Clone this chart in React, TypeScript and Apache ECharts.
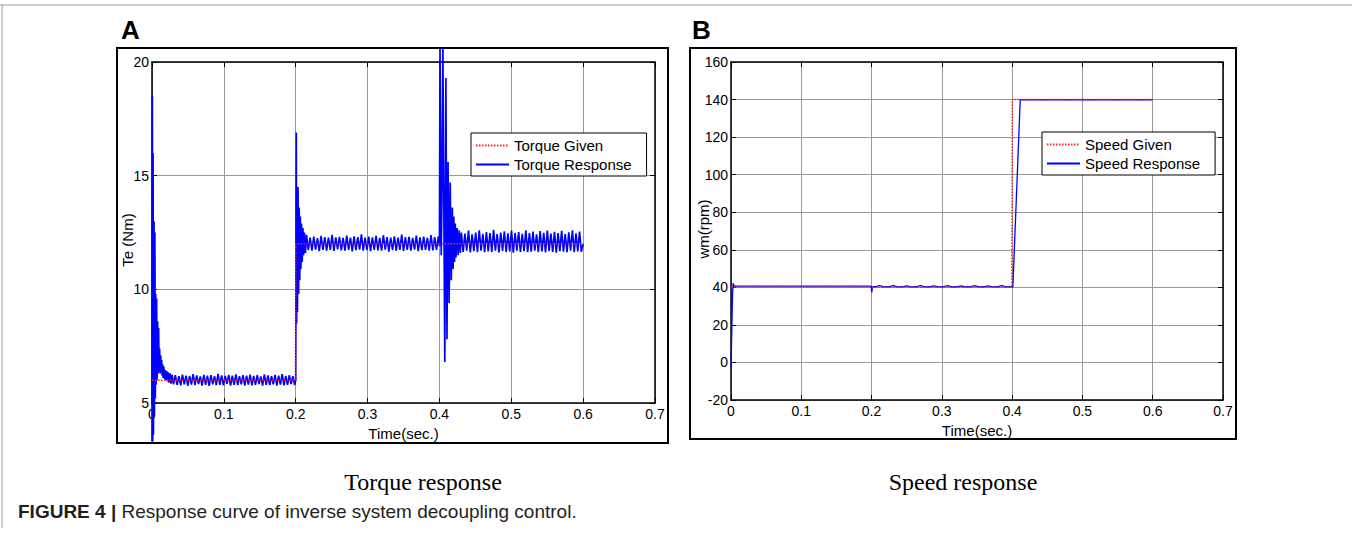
import React, { useEffect, useRef } from "react";
import * as echarts from "echarts";

// ---------- DATA ----------
const xTickValues = [0, 0.1, 0.2, 0.3, 0.4, 0.5, 0.6, 0.7];
const torqueAxis = { min: 5, max: 20, interval: 5 };
const speedAxis = { min: -20, max: 160, interval: 20 };

const torqueGiven: [number, number][] = [[0, 6], [0.2, 6], [0.2, 12], [0.6, 12]];

// start-up transient (t, Te)
const torqueStart: [number, number][] = [
  [0, 3.3], [0.0005, 18.5], [0.001, 3.3], [0.0015, 16], [0.002, 3.6], [0.0028, 13.0], [0.0034, 4.6],
  [0.004, 12.5], [0.0046, 5.2], [0.0052, 9.8], [0.0058, 5.8], [0.0064, 9.6], [0.007, 6.0], [0.0078, 8.6],
  [0.0085, 6.3], [0.0092, 8.3], [0.0099, 6.4], [0.0106, 7.4], [0.0113, 6.3], [0.012, 7.1], [0.0127, 6.4],
  [0.0134, 6.9], [0.0141, 6.2], [0.0148, 6.7], [0.0155, 6.1], [0.0165, 6.6], [0.0175, 6.05], [0.0185, 6.45],
  [0.0195, 6.0], [0.0205, 6.4], [0.0215, 5.95], [0.0225, 6.35], [0.0235, 5.9], [0.025, 6.3], [0.0265, 5.85],
  [0.028, 6.25],
];
// steady ripple 0.03 .. 0.1985 s
const torqueBand1Span = [0.03, 0.1985];
const torqueBand1 = [
  5.82, 6.22, 5.8, 6.18, 5.78, 6.25, 5.82, 6.2, 5.76, 6.19, 5.81, 6.27, 5.79, 6.21, 5.83, 6.17, 5.77, 6.24,
  5.8, 6.2, 5.75, 6.23, 5.82, 6.18, 5.79, 6.28, 5.8, 6.21, 5.78, 6.19, 5.84, 6.24, 5.77, 6.2, 5.8, 6.26,
  5.79, 6.18, 5.82, 6.22, 5.76, 6.2, 5.81, 6.25, 5.78, 6.19, 5.8, 6.23, 5.83, 6.17, 5.77, 6.26, 5.8, 6.21,
  5.79, 6.18, 5.82, 6.24, 5.76, 6.2, 5.81, 6.27, 5.78, 6.19, 5.8, 6.22, 5.83, 6.18, 5.79,
];
// load step at 0.2 s
const torqueStep1: [number, number][] = [
  [0.2, 6.0], [0.2004, 12.5], [0.2008, 16.9], [0.2013, 8.5], [0.2018, 13.5], [0.2024, 9.0], [0.2032, 14.5],
  [0.204, 9.8], [0.2048, 13.6], [0.2056, 10.4], [0.2064, 13.2], [0.2072, 10.9], [0.208, 12.9], [0.209, 11.2],
  [0.21, 12.7], [0.211, 11.5], [0.212, 12.5], [0.2135, 11.6], [0.215, 12.4],
];
const torqueBand2Span = [0.2175, 0.3985];
const torqueBand2 = [
  11.72, 12.28, 11.7, 12.32, 11.75, 12.25, 11.68, 12.35, 11.73, 12.3, 11.7, 12.27, 11.74, 12.4, 11.69, 12.29,
  11.76, 12.31, 11.71, 12.26, 11.7, 12.36, 11.74, 12.28, 11.67, 12.33, 11.72, 12.3, 11.75, 12.42, 11.7, 12.27,
  11.73, 12.32, 11.68, 12.29, 11.74, 12.35, 11.71, 12.26, 11.7, 12.38, 11.75, 12.3, 11.66, 12.28, 11.72, 12.33,
  11.7, 12.27, 11.74, 12.41, 11.69, 12.3, 11.73, 12.31, 11.7, 12.26, 11.75, 12.36, 11.68, 12.29, 11.72, 12.32,
  11.74, 12.28, 11.7, 12.39, 11.71, 12.3, 11.73, 12.33,
];
// speed step at 0.4 s
const torqueStep2: [number, number][] = [
  [0.4, 11.9], [0.4008, 20.6], [0.4025, 11.5], [0.4035, 14], [0.4048, 20.6], [0.4075, 6.8], [0.409, 19.3],
  [0.4105, 7.8], [0.412, 15.6], [0.4135, 9.4], [0.415, 14.7], [0.4165, 10.4], [0.418, 13.6], [0.419, 10.9],
  [0.42, 13.2], [0.421, 11.2], [0.422, 12.9], [0.423, 11.4], [0.4245, 12.7], [0.426, 11.5], [0.4275, 12.6],
  [0.429, 11.6],
];
const torqueBand3Span = [0.4305, 0.6];
const torqueBand3 = [
  12.5, 11.65, 12.45, 11.7, 12.58, 11.62, 12.42, 11.68, 12.5, 11.64, 12.6, 11.7, 12.44, 11.63, 12.52, 11.67,
  12.47, 11.65, 12.62, 11.7, 12.43, 11.62, 12.5, 11.69, 12.55, 11.64, 12.46, 11.67, 12.58, 11.61, 12.48, 11.7,
  12.52, 11.65, 12.44, 11.68, 12.6, 11.63, 12.47, 11.66, 12.54, 11.7, 12.42, 11.64, 12.56, 11.67, 12.49, 11.62,
  12.59, 11.69, 12.45, 11.65, 12.53, 11.61, 12.47, 11.68, 12.57, 11.66, 12.43, 11.63, 12.51, 11.7, 12.6, 11.64,
  12.46, 11.67, 12.54, 11.65, 12.0,
];

const speedGiven: [number, number][] = [[0, 40], [0.3995, 40], [0.4002, 140], [0.6, 140]];
const speedStart: [number, number][] = [
  [0, -2], [0.0006, 8], [0.0014, 22], [0.0022, 36], [0.003, 42.3], [0.0037, 40.2], [0.0045, 41.2],
  [0.006, 40.6], [0.1995, 40.6], [0.2003, 37.3], [0.2012, 40.3],
];
const speedRippleSpan = [0.205, 0.398];
const speedRipple = [
  40.3, 40.9, 40.2, 40.3, 40.9, 40.2, 40.3, 40.8, 40.2, 40.3, 40.9, 40.2, 40.3, 40.8, 40.2, 40.3, 40.9,
  40.2, 40.3, 40.8, 40.2, 40.3, 40.9, 40.2, 40.3, 40.8, 40.2, 40.3, 40.9, 40.2, 40.3,
];
const speedEnd: [number, number][] = [[0.401, 40.1], [0.4115, 139.8], [0.6, 139.8]];

// ---------- helpers ----------
function sampled(span: number[], values: number[]): [number, number][] {
  const [a, b] = span;
  const n = values.length;
  return values.map((v, i) => [a + ((b - a) * i) / (n - 1), v]);
}

const torqueResponse: [number, number][] = [
  ...torqueStart,
  ...sampled(torqueBand1Span, torqueBand1),
  ...torqueStep1,
  ...sampled(torqueBand2Span, torqueBand2),
  ...torqueStep2,
  ...sampled(torqueBand3Span, torqueBand3),
];
const speedResponse: [number, number][] = [
  ...speedStart,
  ...sampled(speedRippleSpan, speedRipple),
  ...speedEnd,
];

const FONT = "Liberation Sans, Arial, Helvetica, sans-serif";

function xAxes(grid: number) {
  const common = {
    gridIndex: grid,
    type: "value" as const,
    min: xTickValues[0],
    max: xTickValues[xTickValues.length - 1],
    interval: 0.1,
    axisLine: { onZero: false, lineStyle: { color: "#000", width: 1.5 } },
    axisTick: { inside: true, length: 5, lineStyle: { color: "#000", width: 1 } },
  };
  return [
    {
      ...common,
      position: "bottom",
      name: "Time(sec.)",
      nameLocation: "middle",
      nameGap: grid === 0 ? 21 : 20,
      nameTextStyle: { fontFamily: FONT, fontSize: 15, color: "#000" },
      axisLabel: {
        color: "#000",
        fontFamily: FONT,
        fontSize: 14,
        margin: 4,
        formatter: (v: number) => String(Math.round(v * 10) / 10),
      },
      splitLine: { show: true, lineStyle: { color: "#999", width: 1 } },
    },
    { ...common, position: "top", axisLabel: { show: false }, splitLine: { show: false } },
  ];
}

function yAxes(grid: number, ax: { min: number; max: number; interval: number }) {
  const common = {
    gridIndex: grid,
    type: "value" as const,
    min: ax.min,
    max: ax.max,
    interval: ax.interval,
    axisLine: { show: true, onZero: false, lineStyle: { color: "#000", width: 1.5 } },
    axisTick: { show: true, inside: true, length: 5, lineStyle: { color: "#000", width: 1 } },
  };
  return [
    {
      ...common,
      position: "left",
      axisLabel: { color: "#000", fontFamily: FONT, fontSize: 14, margin: 3 },
      splitLine: { show: true, lineStyle: { color: "#999", width: 1 } },
    },
    { ...common, position: "right", axisLabel: { show: false }, splitLine: { show: false } },
  ];
}

const legendCommon = {
  orient: "vertical" as const,
  backgroundColor: "#fff",
  borderColor: "#000",
  borderWidth: 1,
  borderRadius: 0,
  padding: [5, 15, 4, 4],
  itemGap: 4,
  itemWidth: 33,
  itemHeight: 14,
  selectedMode: false,
  itemStyle: { opacity: 0 },
  textStyle: { fontFamily: FONT, fontSize: 15, color: "#000" },
};

export default function App() {
  const ref = useRef<HTMLDivElement>(null);
  useEffect(() => {
    if (!ref.current) return;
    const chart = echarts.init(ref.current, undefined, { renderer: "svg" });
    chart.setOption({
      animation: false,
      backgroundColor: "#fff",
      grid: [
        { left: 152, top: 62, width: 503, height: 341 },
        { left: 731, top: 62, width: 492, height: 338 },
      ],
      xAxis: [...xAxes(0), ...xAxes(1)],
      yAxis: [...yAxes(0, torqueAxis), ...yAxes(1, speedAxis)],
      legend: [
        { ...legendCommon, data: ["Torque Given", "Torque Response"], left: 471, top: 133 },
        { ...legendCommon, data: ["Speed Given", "Speed Response"], left: 1042, top: 132 },
      ],
      series: [
        {
          name: "Torque Response",
          type: "line",
          xAxisIndex: 0,
          yAxisIndex: 0,
          data: torqueResponse,
          symbol: "none",
          clip: false,
          z: 2,
          lineStyle: { color: "#0000ff", width: 1.7 },
          itemStyle: { color: "#0000ff" },
        },
        {
          name: "Torque Given",
          type: "line",
          xAxisIndex: 0,
          yAxisIndex: 0,
          data: torqueGiven,
          symbol: "none",
          z: 3,
          lineStyle: { color: "#ff2020", width: 1.5, type: [1.5, 1.5] },
          itemStyle: { color: "#ff0000" },
        },
        {
          name: "Speed Response",
          type: "line",
          xAxisIndex: 2,
          yAxisIndex: 2,
          data: speedResponse,
          symbol: "none",
          z: 2,
          lineStyle: { color: "#0000ff", width: 1.3 },
          itemStyle: { color: "#0000ff" },
        },
        {
          name: "Speed Given",
          type: "line",
          xAxisIndex: 2,
          yAxisIndex: 2,
          data: speedGiven,
          symbol: "none",
          z: 3,
          lineStyle: { color: "#ff2020", width: 1.5, type: [1.5, 1.5] },
          itemStyle: { color: "#ff0000" },
        },
      ],
      graphic: [
        { type: "line", shape: { x1: 0, y1: 5, x2: 1352, y2: 5 }, style: { stroke: "#999", lineWidth: 1 } },
        { type: "line", shape: { x1: 2, y1: 5, x2: 2, y2: 528 }, style: { stroke: "#999", lineWidth: 1 } },
        { type: "rect", shape: { x: 117, y: 48, width: 551, height: 395 }, style: { fill: "none", stroke: "#000", lineWidth: 2 }, z: 0 },
        { type: "rect", shape: { x: 690, y: 48, width: 546, height: 391 }, style: { fill: "none", stroke: "#000", lineWidth: 2 }, z: 0 },
        { type: "text", x: 121, y: 30, style: { text: "A", font: `bold 26px ${FONT}`, fill: "#000", verticalAlign: "middle" } },
        { type: "text", x: 692, y: 30, style: { text: "B", font: `bold 26px ${FONT}`, fill: "#000", verticalAlign: "middle" } },
        { type: "text", x: 127, y: 240, rotation: Math.PI / 2, style: { text: "Te (Nm)", font: `15px ${FONT}`, fill: "#000", align: "center", verticalAlign: "middle" } },
        { type: "text", x: 703, y: 229, rotation: Math.PI / 2, style: { text: "wm(rpm)", font: `15px ${FONT}`, fill: "#000", align: "center", verticalAlign: "middle" } },
        { type: "text", x: 423, y: 482, style: { text: "Torque response", font: "24px Liberation Serif, Times New Roman, serif", fill: "#000", align: "center", verticalAlign: "middle" } },
        { type: "text", x: 963, y: 482, style: { text: "Speed response", font: "24px Liberation Serif, Times New Roman, serif", fill: "#000", align: "center", verticalAlign: "middle" } },
        {
          type: "text",
          x: 18,
          y: 511,
          style: {
            text: "{b|FIGURE 4 |} Response curve of inverse system decoupling control.",
            font: `19px ${FONT}`,
            fill: "#231f20",
            verticalAlign: "middle",
            rich: { b: { fontWeight: "bold", fontSize: 19, fontFamily: FONT, fill: "#231f20" } },
          },
        },
      ],
    });
    return () => chart.dispose();
  }, []);
  return <div ref={ref} style={{ position: "fixed", left: 0, top: 0, width: 1352, height: 558 }} />;
}
